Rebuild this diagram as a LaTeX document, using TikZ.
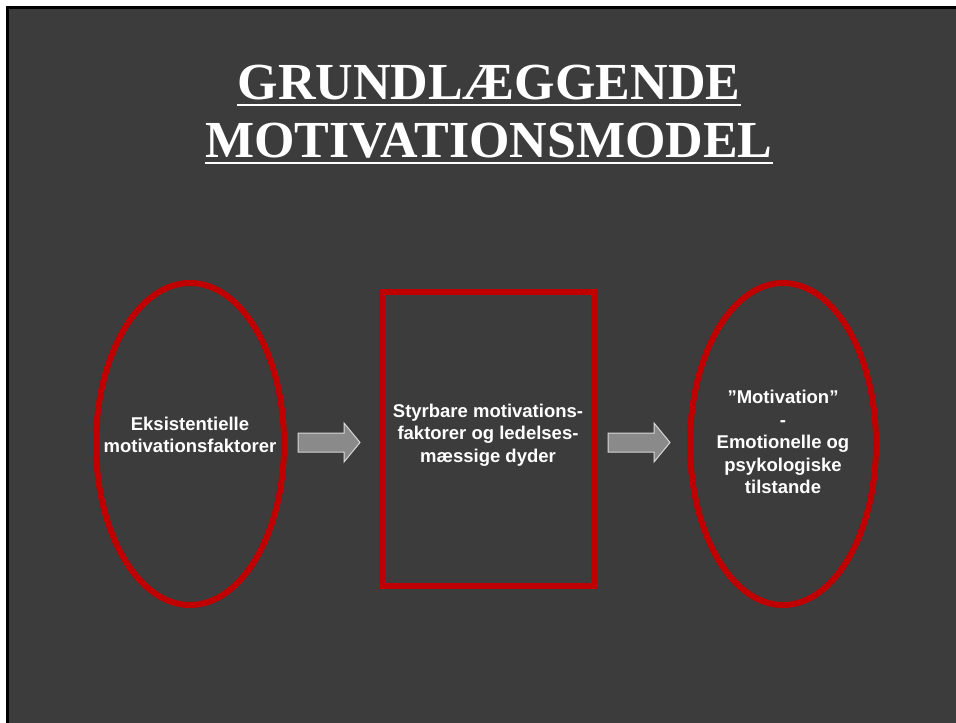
\documentclass[tikz,border=0pt]{standalone}
\usepackage{fontspec}
\setmainfont{Liberation Sans}
\newfontfamily\titlefont{Liberation Serif}
\usetikzlibrary{shapes.geometric}

\definecolor{slidegray}{HTML}{3C3C3C}
\definecolor{darkred}{HTML}{C00000}
\definecolor{arrowgray}{HTML}{8A8A8A}
\definecolor{arrowedge}{HTML}{D8D8D8}

\begin{document}
\begin{tikzpicture}[x=1pt, y=-1pt,
    oval/.style={draw=darkred, line width=6pt, ellipse, inner sep=0pt},
    redbox/.style={draw=darkred, line width=5.5pt, rectangle, inner sep=0pt},
    boxtext/.style={text=white, font=\bfseries\fontsize{18.5}{22.5}\selectfont, align=center},
    heading/.style={text=white, font=\titlefont\bfseries\fontsize{52}{58}\selectfont, inner sep=0pt, anchor=base},
    uline/.style={white, line width=2.7pt},
    blockarrow/.style={fill=arrowgray, draw=arrowedge, line width=1pt}]

    \useasboundingbox (0,0) rectangle (956,723);

    % Background
    \fill[white] (0,0) rectangle (956,723);
    \fill[black] (6,6) rectangle (962,730);
    \fill[slidegray] (9,9) rectangle (962,730);

    % Title
    \node[heading] (title1) at (489,99) {GRUNDLÆGGENDE};
    \node[heading] (title2) at (489,157) {MOTIVATIONSMODEL};
    \draw[uline] ([yshift=-6pt]title1.base west) -- ([yshift=-6pt]title1.base east);
    \draw[uline] ([yshift=-6pt]title2.base west) -- ([yshift=-6pt]title2.base east);

    % Model
    \node[oval, minimum width=188pt, minimum height=322pt] (oval1) at (190,444) {};
    \node[redbox, minimum width=212pt, minimum height=294pt] (box) at (488,439) {};
    \node[oval, minimum width=186pt, minimum height=322pt] (oval2) at (783,444) {};

    \node[boxtext] (txt1) at ([yshift=9pt]oval1.center) {Eksistentielle\\motivationsfaktorer};
    \node[boxtext] (txt2) at ([yshift=4pt]box.center) {Styrbare motivations-\\faktorer og ledelses-\\mæssige dyder};
    \node[boxtext] (txt3) at ([yshift=2pt]oval2.center) {”Motivation”\\-\\Emotionelle og\\psykologiske\\tilstande};

    % Arrows
    \coordinate (arr1) at (329,442.5);
    \coordinate (arr2) at (639,442.5);
    \foreach \a in {arr1,arr2}
        \draw[blockarrow, shift={(\a)}] (-31,-9.5) -- (15,-9.5) -- (15,-19.5) -- (31,0)
            -- (15,19.5) -- (15,9.5) -- (-31,9.5) -- cycle;
\end{tikzpicture}
\end{document}
